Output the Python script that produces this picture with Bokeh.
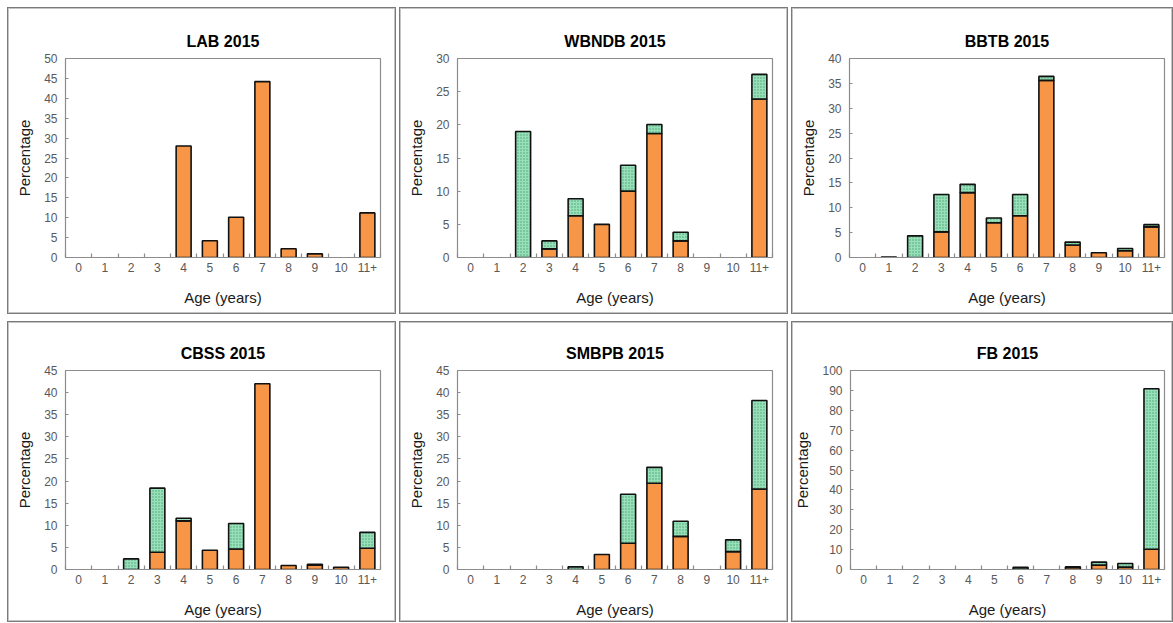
from bokeh.plotting import figure
from bokeh.layouts import row, column
from bokeh.models import Range1d, LinearAxis, FixedTicker, SingleIntervalTicker, ColumnDataSource
from bokeh.embed import file_html
from bokeh.resources import INLINE

# ---------------- data ----------------
ages = ["0", "1", "2", "3", "4", "5", "6", "7", "8", "9", "10", "11+"]

titles = ["LAB 2015", "WBNDB 2015", "BBTB 2015", "CBSS 2015", "SMBPB 2015", "FB 2015"]

# orange (lower) and green hatched (upper) segments, percent, per age class
lab_orange = [0, 0, 0, 0, 28.0, 4.2, 10.1, 44.2, 2.2, 0.9, 0, 11.2]
lab_green = [0, 0, 0, 0, 0, 0, 0, 0, 0, 0, 0, 0]

wbndb_orange = [0, 0, 0, 1.3, 6.3, 5.0, 10.0, 18.7, 2.5, 0, 0, 23.9]
wbndb_green = [0, 0, 19.0, 1.2, 2.55, 0, 3.9, 1.35, 1.3, 0, 0, 3.7]

bbtb_orange = [0, 0.1, 0, 5.15, 13.05, 7.0, 8.4, 35.6, 2.5, 0.95, 1.35, 6.15]
bbtb_green = [0, 0, 4.35, 7.5, 1.65, 0.95, 4.25, 0.8, 0.6, 0, 0.45, 0.45]

cbss_orange = [0, 0, 0, 3.9, 11.0, 4.35, 4.65, 42.0, 0.9, 1.0, 0.5, 4.8]
cbss_green = [0, 0, 2.4, 14.5, 0.6, 0, 5.75, 0, 0, 0.15, 0, 3.6]

smbpb_orange = [0, 0, 0, 0, 0, 3.4, 5.95, 19.5, 7.5, 0, 4.05, 18.2]
smbpb_green = [0, 0, 0, 0, 0.6, 0, 11.05, 3.6, 3.4, 0, 2.65, 20.0]

fb_orange = [0, 0, 0, 0, 0, 0, 0.2, 0, 1.0, 2.2, 1.2, 10.2]
fb_green = [0, 0, 0, 0, 0, 0, 0.9, 0, 0.3, 1.5, 1.8, 80.6]

y_max = [50, 30, 40, 45, 45, 100]
y_step = [5, 5, 5, 5, 5, 10]

orange_series = [lab_orange, wbndb_orange, bbtb_orange, cbss_orange, smbpb_orange, fb_orange]
green_series = [lab_green, wbndb_green, bbtb_green, cbss_green, smbpb_green, fb_green]

# ---------------- styling ----------------
FONT = "Liberation Sans"
ORANGE = "#F79646"
GREEN = "#98e0b9"
GREEN_DOT = "#2f8f5c"
AXIS_GRAY = "#8c8c8c"
TICK_TXT = "#595959"


def make_panel(title, orange, green, ymax, ystep, width, height,
               border_top, border_bottom, border_right):
    p = figure(width=width, height=height,
               x_range=Range1d(-0.5, len(ages) - 0.5), y_range=Range1d(0, ymax),
               output_backend="svg", toolbar_location=None,
               x_axis_location=None, tools="",
               min_border_left=58, min_border_right=border_right,
               min_border_top=border_top, min_border_bottom=border_bottom,
               styles={"box-shadow": "inset 0 0 0 1px #7a7a7a, inset 0 0 0 2px #c4c4c4"})
    p.background_fill_color = "white"
    p.border_fill_color = None
    p.outline_line_color = AXIS_GRAY
    p.outline_line_width = 1.2
    p.xgrid.visible = False
    p.ygrid.visible = False

    p.title.text = title
    p.title.align = "center"
    p.title.text_font = FONT
    p.title.text_font_style = "bold"
    p.title.text_font_size = "16px"
    p.title.text_color = "#000000"
    p.title.standoff = 17

    # y axis
    ya = p.yaxis[0]
    ya.ticker = SingleIntervalTicker(interval=ystep, num_minor_ticks=0)
    ya.axis_line_color = AXIS_GRAY
    ya.major_tick_line_color = AXIS_GRAY
    ya.major_tick_in = 3
    ya.major_tick_out = 0
    ya.minor_tick_line_color = None
    ya.minor_tick_in = 0
    ya.minor_tick_out = 0
    ya.major_label_text_font = FONT
    ya.major_label_text_font_size = "12px"
    ya.major_label_text_color = TICK_TXT
    ya.major_label_standoff = 8
    ya.axis_label = "Percentage"
    ya.axis_label_text_font = FONT
    ya.axis_label_text_font_size = "15px"
    ya.axis_label_text_font_style = "normal"
    ya.axis_label_text_color = "#1a1a1a"
    ya.axis_label_standoff = 8

    # x axis: labels at category centres, ticks at category boundaries
    idx = list(range(len(ages)))
    xa = LinearAxis(ticker=FixedTicker(ticks=idx, minor_ticks=[i - 0.5 for i in range(len(ages) + 1)]))
    xa.major_label_overrides = {i: a for i, a in zip(idx, ages)}
    xa.axis_line_color = AXIS_GRAY
    xa.axis_line_width = 1.2
    xa.major_tick_line_color = None
    xa.major_tick_in = 0
    xa.major_tick_out = 0
    xa.minor_tick_line_color = AXIS_GRAY
    xa.minor_tick_line_width = 1.2
    xa.minor_tick_in = 4
    xa.minor_tick_out = 0
    xa.major_label_text_font = FONT
    xa.major_label_text_font_size = "12px"
    xa.major_label_text_color = TICK_TXT
    xa.major_label_standoff = 5
    xa.axis_label = "Age (years)"
    xa.axis_label_text_font = FONT
    xa.axis_label_text_font_size = "15px"
    xa.axis_label_text_font_style = "normal"
    xa.axis_label_text_color = "#1a1a1a"
    xa.axis_label_standoff = 14
    p.add_layout(xa, "below")

    # stacked bars (skip empty segments so no outline is drawn on the baseline)
    ox = [i for i in idx if orange[i] > 0]
    src_o = ColumnDataSource(dict(x=ox, top=[orange[i] for i in ox]))
    gx = [i for i in idx if green[i] > 0]
    src_g = ColumnDataSource(dict(x=gx, bottom=[orange[i] for i in gx],
                                  top=[orange[i] + green[i] for i in gx]))
    p.vbar(x="x", top="top", bottom=0, width=0.57, source=src_o,
           fill_color=ORANGE, line_color="#111111", line_width=1.6)
    p.vbar(x="x", top="top", bottom="bottom", width=0.57, source=src_g,
           fill_color=GREEN, hatch_pattern="dot", hatch_color=GREEN_DOT,
           hatch_scale=3, hatch_weight=1, hatch_alpha=0.75,
           line_color="#111111", line_width=1.6)
    return p


widths = [389, 389, 382]
rights = [16, 16, 9]
panels = []
for k in range(6):
    top_row = k < 3
    c = k % 3
    panels.append(make_panel(titles[k], orange_series[k], green_series[k], y_max[k], y_step[k],
                             width=widths[c], height=307 if top_row else 301,
                             border_top=51 if top_row else 49,
                             border_bottom=57 if top_row else 53,
                             border_right=rights[c]))

layout = column(row(panels[0:3], spacing=3), row(panels[3:6], spacing=3),
                spacing=7, margin=(7, 0, 0, 7))

open("out.html", "w").write(file_html(layout, INLINE))
